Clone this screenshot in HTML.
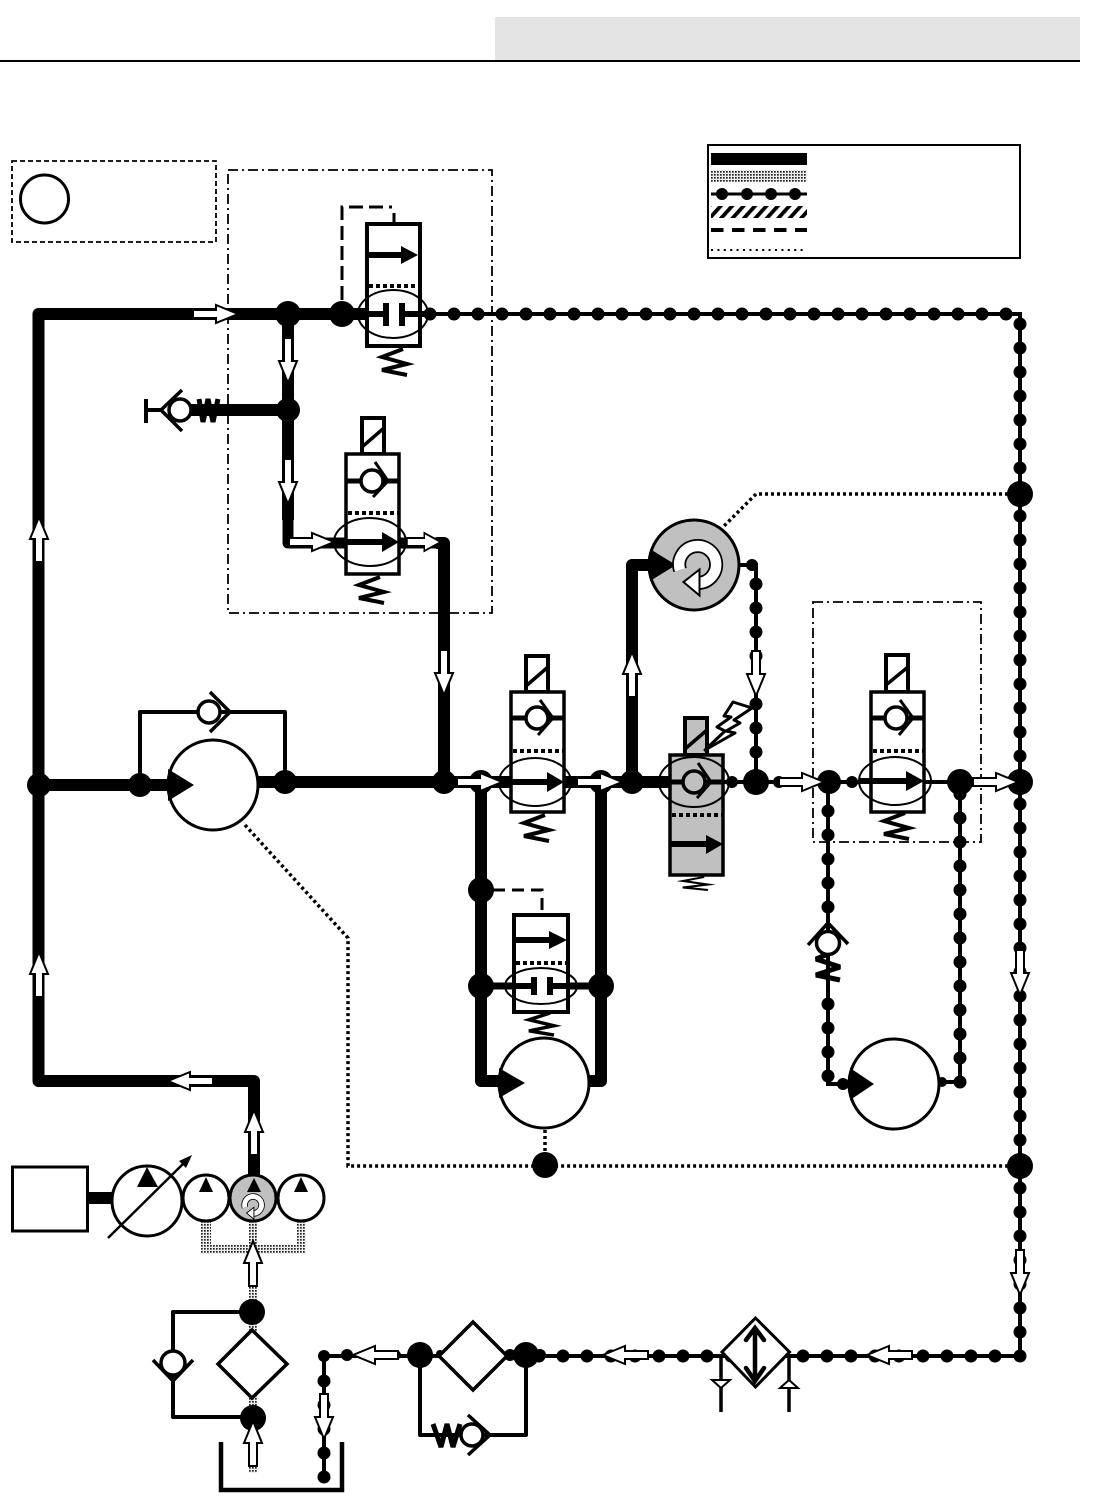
<!DOCTYPE html>
<html>
<head>
<meta charset="utf-8">
<style>
html,body{margin:0;padding:0;background:#fff}
svg{display:block}
</style>
</head>
<body>
<svg xmlns="http://www.w3.org/2000/svg" width="1099" height="1502" viewBox="0 0 1099 1502">
<defs>
<pattern id="st" width="3" height="3" patternUnits="userSpaceOnUse"><rect width="3" height="3" fill="#eee"/><rect width="1.7" height="1.7" fill="#222"/></pattern>
<pattern id="ha" width="8.5" height="12" patternUnits="userSpaceOnUse" patternTransform="rotate(42)"><rect width="3.8" height="12" fill="#000"/></pattern>
<path id="a" d="M0-4H23V-9L45 0 23 9V4H0Z" fill="#fff" stroke="#000" stroke-width="2"/>
<polyline id="sp" points="8,0 -13,8 12,15 -13,21 12,26" fill="none" stroke="#000" stroke-width="4"/>
<g id="sw">
<path d="M-17.500 5.500A18.500 18.500 0 1 1 .5 18.500" fill="none" stroke="#000" stroke-width="14"/>
<path d="M-17.500 5.500A18.500 18.500 0 1 1 .5 18.500" fill="none" stroke="#fff" stroke-width="10.500"/>
<path d="M2 5V31L-14 17.500Z" fill="#fff" stroke="#000" stroke-width="2"/>
</g>
</defs>

<!-- header -->
<rect x="495" y="17" width="585" height="43" fill="#e4e4e4"/>
<rect x="0" y="60" width="1080" height="2" fill="#000"/>

<!-- boxes -->
<rect x="12" y="161" width="204" height="81" fill="none" stroke="#000" stroke-width="1.800" stroke-dasharray="5 3"/>
<circle cx="44.500" cy="199" r="24" fill="none" stroke="#000" stroke-width="3"/>
<g fill="none" stroke="#000" stroke-width="1.800" stroke-dasharray="10 4 2 4">
<rect x="228" y="170" width="264" height="443"/>
<rect x="813" y="602" width="168" height="240"/>
</g>

<!-- legend -->
<rect x="708" y="145" width="312" height="113" fill="#fff" stroke="#000" stroke-width="2"/>
<rect x="711" y="153" width="96" height="12" fill="#000"/>
<rect x="711" y="170" width="96" height="12" fill="url(#st)"/>
<path d="M711 194H807" stroke="#000" stroke-width="3"/>
<g fill="#000"><circle cx="722" cy="194" r="6"/><circle cx="747" cy="194" r="6"/><circle cx="771" cy="194" r="6"/><circle cx="795" cy="194" r="6"/></g>
<rect x="711" y="206" width="96" height="12" fill="url(#ha)"/>
<path d="M711 230H807" stroke="#000" stroke-width="4" stroke-dasharray="12.500 8.500"/>
<path d="M711 250H805" stroke="#000" stroke-width="2" stroke-dasharray="2 4.400"/>

<!-- pilot / drain dotted -->
<g fill="none" stroke="#000" stroke-width="3.500" stroke-dasharray="3 3">
<path d="M1020 494H756L722 528"/>
<path d="M245 825 348 938V1166H1020"/>
<path d="M545 1130V1165"/>
</g>

<!-- thin return lines -->
<g fill="none" stroke="#000" stroke-width="4">
<path d="M420 314H1020V1356H324V1477"/>
<path d="M740 565H756V782"/>
<path d="M700 782H1020"/>
<path d="M828 782V1084H849"/>
<path d="M960 782V1082H938"/>
</g>
<g fill="none" stroke="#000" stroke-width="13" stroke-linecap="round" stroke-dasharray="0 24">
<path d="M430 314H1010"/>
<path d="M1020 324V1357"/>
<path d="M995 1356H515"/>
<path d="M756 584V770"/>
<path d="M828 811V910"/>
<path d="M828 1004V1078"/>
<path d="M960 794V1084"/>
<path d="M324 1381V1480"/>
</g>
<g fill="#000">
<circle cx="732" cy="782" r="6"/><circle cx="752" cy="565" r="6"/><circle cx="779" cy="782" r="6"/><circle cx="852" cy="782" r="6"/>
<circle cx="843" cy="1084" r="6"/><circle cx="942" cy="1082" r="5"/>
<circle cx="347" cy="1355" r="6"/><circle cx="324" cy="1356" r="6"/><circle cx="396" cy="1355" r="5"/>
<circle cx="440" cy="1354" r="4"/><circle cx="510" cy="1355" r="6"/><circle cx="540" cy="1355" r="6"/>
</g>

<!-- suction stipple -->
<g fill="url(#st)">
<rect x="249" y="1215" width="8" height="120"/>
<rect x="249" y="1395" width="8" height="78"/>
<rect x="201" y="1221" width="10" height="33"/>
<rect x="297" y="1221" width="9" height="33"/>
<rect x="201" y="1245" width="105" height="9"/>
</g>

<!-- thick pressure lines -->
<g fill="none" stroke="#000" stroke-width="12" stroke-linejoin="round">
<path d="M380 314H38.500V1081H254V1180"/>
<path d="M288 314V520"/>
<path d="M288 410H190"/>
<path d="M38.500 785H170"/>
<path d="M258 782H700"/>
<path d="M444 782V543H436"/>
<path d="M632 782V565H660"/>
<path d="M481 782V1081H515"/>
<path d="M601 782V1081H585"/>
<path d="M481 986H601" stroke-width="7"/>
<path d="M88 1198H114"/>
</g>
<path d="M288 515V543H440" fill="none" stroke="#000" stroke-width="11" stroke-linejoin="round"/>

<!-- bypass lines -->
<g fill="none" stroke="#000" stroke-width="4" stroke-linejoin="round">
<path d="M140 785V712H285V782"/>
<path d="M252 1312H173V1417H253"/>
<path d="M420 1355V1435H526V1355"/>
</g>

<!-- pilot dashed -->
<g fill="none" stroke="#000" stroke-width="3">
<path d="M342 300V207H392" stroke-dasharray="14 6"/>
<path d="M394 213V224"/>
<path d="M493 890H542V912" stroke-dasharray="12 7"/>
</g>

<!-- junctions -->
<g fill="#000">
<circle cx="288" cy="314" r="13"/><circle cx="342" cy="314" r="13"/><circle cx="288" cy="410" r="12"/>
<circle cx="39" cy="785" r="12"/><circle cx="140" cy="785" r="12"/><circle cx="285" cy="782" r="12"/>
<circle cx="444" cy="782" r="12"/><circle cx="481" cy="782" r="12"/><circle cx="601" cy="782" r="12"/><circle cx="632" cy="782" r="12"/>
<circle cx="756" cy="782" r="13"/><circle cx="829" cy="782" r="12"/><circle cx="960" cy="782" r="13"/><circle cx="1020" cy="782" r="13"/>
<circle cx="1020" cy="494" r="13"/><circle cx="1020" cy="1166" r="13"/><circle cx="545" cy="1165" r="13"/>
<circle cx="481" cy="890" r="13"/><circle cx="481" cy="986" r="13"/><circle cx="601" cy="986" r="13"/>
<circle cx="252" cy="1312" r="13"/><circle cx="253" cy="1418" r="13"/>
<circle cx="420" cy="1355" r="13"/><circle cx="526" cy="1355" r="13"/>
</g>

<!-- relief valve -->
<g fill="none" stroke="#000">
<path d="M146 399V423M146 410H163" stroke-width="4"/>
<path d="M182 390 161 410 182 431" stroke-width="3.500"/>
<path d="M199 399 203 422 208 399 213 422 218 399" stroke-width="5" stroke-linejoin="bevel"/>
<circle cx="180" cy="410" r="11" fill="#fff" stroke-width="3.500"/>
</g>

<!-- valve 1 -->
<use href="#sp" x="395" y="349"/>
<rect x="367" y="224" width="53" height="122" fill="#fff" stroke="#000" stroke-width="4"/>
<path d="M367 255H402" stroke="#000" stroke-width="6"/><path d="M401 246V264L418 255Z" fill="#000"/>
<path d="M369 286H418" stroke="#000" stroke-width="4" stroke-dasharray="4 3"/>
<path d="M355 314H386M402 314H430" stroke="#000" stroke-width="6"/>
<path d="M386 303V326M402 303V326" stroke="#000" stroke-width="6"/>
<ellipse cx="393" cy="314" rx="35" ry="24" fill="none" stroke="#000" stroke-width="2"/>

<!-- valve 2 -->
<use href="#sp" x="372" y="577"/>
<rect x="362" y="418" width="22" height="36" fill="#fff" stroke="#000" stroke-width="4"/>
<path d="M362 447 384 428" stroke="#000" stroke-width="3.500"/>
<rect x="346" y="454" width="53" height="120" fill="#fff" stroke="#000" stroke-width="3.500"/>
<path d="M346 481H399" stroke="#000" stroke-width="5"/>
<circle cx="372" cy="481" r="11" fill="#fff" stroke="#000" stroke-width="3.500"/>
<path d="M375 462 388 481 373 497" fill="none" stroke="#000" stroke-width="3"/>
<path d="M348 513H398" stroke="#000" stroke-width="4" stroke-dasharray="4 3"/>
<path d="M334 542H384" stroke="#000" stroke-width="6"/><path d="M382 532V552L399 542Z" fill="#000"/>
<path d="M399 542H407" stroke="#000" stroke-width="6"/>
<ellipse cx="370" cy="542" rx="36" ry="24" fill="none" stroke="#000" stroke-width="2"/>

<!-- valve 3 -->
<use href="#sp" x="537" y="815"/>
<rect x="526" y="656" width="22" height="36" fill="#fff" stroke="#000" stroke-width="4"/>
<path d="M526 686 548 667" stroke="#000" stroke-width="3.500"/>
<rect x="511" y="692" width="53" height="120" fill="#fff" stroke="#000" stroke-width="3.500"/>
<path d="M511 718H564" stroke="#000" stroke-width="5"/>
<circle cx="537" cy="718" r="11" fill="#fff" stroke="#000" stroke-width="3.500"/>
<path d="M540 700 553 718 538 735" fill="none" stroke="#000" stroke-width="3"/>
<path d="M513 751H563" stroke="#000" stroke-width="4" stroke-dasharray="4 3"/>
<path d="M500 782H550" stroke="#000" stroke-width="6"/><path d="M547 772V792L564 782Z" fill="#000"/>
<ellipse cx="535" cy="782" rx="36" ry="24" fill="none" stroke="#000" stroke-width="2"/>

<!-- valve 4 -->
<use href="#sp" transform="translate(542 1013) scale(1 .85)"/>
<rect x="514" y="915" width="54" height="97" fill="#fff" stroke="#000" stroke-width="4"/>
<path d="M516 940H550" stroke="#000" stroke-width="6"/><path d="M549 931V949L567 940Z" fill="#000"/>
<path d="M516 963H566" stroke="#000" stroke-width="4" stroke-dasharray="4 3"/>
<path d="M494 986H534M550 986H590" stroke="#000" stroke-width="6"/>
<path d="M534 977V995M550 977V995" stroke="#000" stroke-width="6"/>
<ellipse cx="541" cy="986" rx="36" ry="18" fill="none" stroke="#000" stroke-width="2"/>

<!-- motor M1 -->
<circle cx="213" cy="785" r="45" fill="#fff" stroke="#000" stroke-width="3"/>
<path d="M168 769V801L194 785Z" fill="#000"/>
<circle cx="209" cy="712" r="11" fill="#fff" stroke="#000" stroke-width="3.500"/>
<path d="M210 692 230 712 210 732" fill="none" stroke="#000" stroke-width="3.500"/>

<!-- motor M2 -->
<circle cx="544" cy="1083" r="45" fill="#fff" stroke="#000" stroke-width="3"/>
<path d="M499 1068V1098L525 1083Z" fill="#000"/>

<!-- gray motor -->
<circle cx="694" cy="565" r="45" fill="#c0c0c0" stroke="#000" stroke-width="3"/>
<path d="M650 549V581L676 565Z" fill="#000"/>
<use href="#sw" x="697.500" y="564.500"/>

<!-- valve 5 gray -->
<use href="#sp" transform="translate(696 877) scale(1 .5)"/>
<rect x="685" y="718" width="22" height="37" fill="#c0c0c0" stroke="#000" stroke-width="4"/>
<path d="M685 749 707 730" stroke="#000" stroke-width="3.500"/>
<rect x="670" y="755" width="53" height="120" fill="#c0c0c0" stroke="#000" stroke-width="3.500"/>
<path d="M670 782H723" stroke="#000" stroke-width="5"/>
<circle cx="694" cy="782" r="11" fill="#c0c0c0" stroke="#000" stroke-width="3.500"/>
<path d="M698 763 711 782 697 798" fill="none" stroke="#000" stroke-width="3"/>
<path d="M672 815H722" stroke="#000" stroke-width="4" stroke-dasharray="4 3"/>
<path d="M671 844H708" stroke="#000" stroke-width="6"/><path d="M706 835V854L723 844Z" fill="#000"/>
<ellipse cx="694" cy="782" rx="35" ry="25" fill="none" stroke="#000" stroke-width="2"/>
<path d="M705 750 725 731 717 727 731 717 724 716 733 702 752 708 734 720 740 723 726 731 735 733Z" fill="#fff" stroke="#000" stroke-width="3" stroke-linejoin="round"/>

<!-- valve 6 -->
<use href="#sp" x="897" y="813"/>
<rect x="886" y="655" width="22" height="37" fill="#fff" stroke="#000" stroke-width="4"/>
<path d="M886 685 908 667" stroke="#000" stroke-width="3.500"/>
<rect x="871" y="692" width="53" height="120" fill="#fff" stroke="#000" stroke-width="3.500"/>
<path d="M871 718H924" stroke="#000" stroke-width="5"/>
<circle cx="896" cy="718" r="11" fill="#fff" stroke="#000" stroke-width="3.500"/>
<path d="M900 700 913 718 899 735" fill="none" stroke="#000" stroke-width="3"/>
<path d="M873 751H923" stroke="#000" stroke-width="4" stroke-dasharray="4 3"/>
<path d="M860 781H908" stroke="#000" stroke-width="6"/><path d="M906 771V791L924 781Z" fill="#000"/>
<ellipse cx="895" cy="781" rx="36" ry="24" fill="none" stroke="#000" stroke-width="2"/>

<!-- check with spring, right branch -->
<path d="M828 954 816 959 840 967 816 975 840 980" fill="none" stroke="#000" stroke-width="5" stroke-linejoin="bevel"/>
<circle cx="828" cy="943" r="11.500" fill="#fff" stroke="#000" stroke-width="3.500"/>
<path d="M808 945 828 923 848 944" fill="none" stroke="#000" stroke-width="3.500"/>

<!-- motor M3 -->
<circle cx="894" cy="1084" r="45" fill="#fff" stroke="#000" stroke-width="3"/>
<path d="M850 1068V1100L874 1084Z" fill="#000"/>

<!-- prime mover and pumps -->
<rect x="12.500" y="1167" width="75" height="64" fill="#fff" stroke="#000" stroke-width="3"/>
<circle cx="147" cy="1201" r="35" fill="#fff" stroke="#000" stroke-width="3"/>
<path d="M147 1167 137 1187H158Z" fill="#000"/>
<path d="M108 1238 186 1161" stroke="#000" stroke-width="2.500"/><path d="M192 1155 179 1161 186 1168Z" fill="#000"/>
<circle cx="206" cy="1198" r="23" fill="#fff" stroke="#000" stroke-width="3"/>
<circle cx="253" cy="1198" r="23" fill="#c0c0c0" stroke="#000" stroke-width="3"/>
<circle cx="301" cy="1198" r="23" fill="#fff" stroke="#000" stroke-width="3"/>
<path d="M206 1177 199 1192H213Z" fill="#000"/>
<path d="M254 1178 247 1192H261Z" fill="#000"/>
<path d="M301 1177 294 1192H308Z" fill="#000"/>
<use href="#sw" transform="translate(253 1205) scale(.46)"/>

<!-- filters -->
<path d="M252 1330 287 1364 252 1398 218 1364Z" fill="#fff" stroke="#000" stroke-width="3.500"/>
<circle cx="173" cy="1363" r="12" fill="#fff" stroke="#000" stroke-width="3.500"/>
<path d="M153 1360 173 1381 193 1360" fill="none" stroke="#000" stroke-width="3.500"/>
<path d="M473 1322 507 1356 473 1390 439 1356Z" fill="#fff" stroke="#000" stroke-width="3.500"/>
<path d="M433 1424 441 1447 447 1424 453 1447 460 1424" fill="none" stroke="#000" stroke-width="5" stroke-linejoin="bevel"/>
<circle cx="472" cy="1435" r="11" fill="#fff" stroke="#000" stroke-width="3.500"/>
<path d="M468 1415 490 1435 468 1455" fill="none" stroke="#000" stroke-width="3.500"/>

<!-- heat exchanger -->
<path d="M721 1355V1412M789 1355V1412" stroke="#000" stroke-width="3.500"/>
<path d="M712 1380H730L721 1388Z" fill="#fff" stroke="#000" stroke-width="2"/>
<path d="M780 1388H798L789 1380Z" fill="#fff" stroke="#000" stroke-width="2"/>
<path d="M755.500 1318 789.500 1352 755.500 1387 722 1352Z" fill="#fff" stroke="#000" stroke-width="3"/>
<path d="M755 1328V1381M746 1340 755 1328 764 1340M746 1368 755 1381 764 1368" fill="none" stroke="#000" stroke-width="4.500" stroke-linecap="round"/>

<!-- tank -->
<path d="M221 1442V1490H342V1442" fill="none" stroke="#000" stroke-width="4.500"/>

<!-- flow arrows -->
<use href="#a" transform="translate(193 314)"/>
<use href="#a" transform="translate(288 338) rotate(90)"/>
<use href="#a" transform="translate(288 459) rotate(90)"/>
<use href="#a" transform="translate(289 542)"/>
<use href="#a" transform="translate(407 542) scale(.75 1)"/>
<use href="#a" transform="translate(39 562) rotate(-90)"/>
<use href="#a" transform="translate(39 997) rotate(-90)"/>
<use href="#a" transform="translate(213 1081) rotate(180)"/>
<use href="#a" transform="translate(254 1155) rotate(-90)"/>
<use href="#a" transform="translate(444 650) rotate(90)"/>
<use href="#a" transform="translate(457 782)"/>
<use href="#a" transform="translate(577 782)"/>
<use href="#a" transform="translate(632 697) rotate(-90)"/>
<use href="#a" transform="translate(756 651) rotate(90)"/>
<use href="#a" transform="translate(779 782)"/>
<use href="#a" transform="translate(973 782)"/>
<use href="#a" transform="translate(1020 950) rotate(90)"/>
<use href="#a" transform="translate(1020 1250) rotate(90)"/>
<use href="#a" transform="translate(912 1355) rotate(180)"/>
<use href="#a" transform="translate(648 1355) rotate(180)"/>
<use href="#a" transform="translate(398 1355) rotate(180)"/>
<use href="#a" transform="translate(324 1394) rotate(90)"/>
<use href="#a" transform="translate(253 1286) rotate(-90)"/>
<use href="#a" transform="translate(253 1466) rotate(-90)"/>
</svg>
</body>
</html>
